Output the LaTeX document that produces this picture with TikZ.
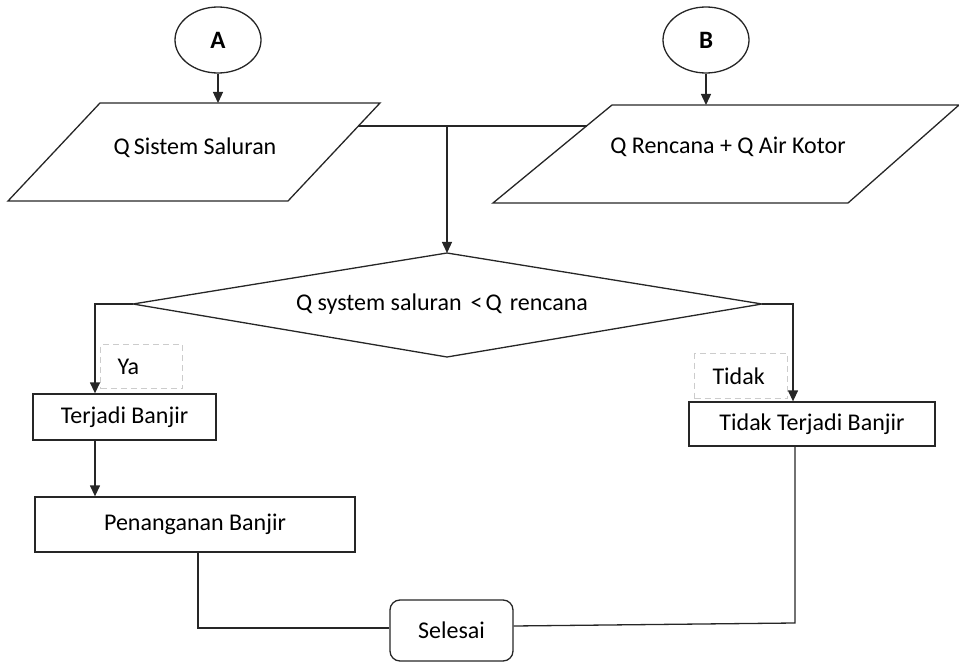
\documentclass[tikz,border=0pt]{standalone}
\usepackage{fontspec}
\setmainfont{Carlito}
\usetikzlibrary{shapes.geometric,arrows.meta}
\begin{document}
\begin{tikzpicture}[x=1pt,y=-1pt,
  every node/.style={font=\fontsize{24}{28}\selectfont, text=black},
  ln/.style={line width=1.3pt, draw=black!85},
  arr/.style={ln, -{Triangle[length=11pt,width=10pt]}},
  conn/.style={draw=black!85, ellipse, line width=1.3pt, minimum width=86pt, minimum height=66pt, inner sep=0pt, font=\fontsize{25}{29}\selectfont\bfseries},
  box/.style={draw=black!85, line width=1.3pt, inner sep=0pt},
  lab/.style={draw=black!20, dash pattern=on 6pt off 4pt, line width=1pt, inner ysep=0pt, align=left, anchor=north west},
]
\useasboundingbox (0,0) rectangle (959,663);

% connectors A and B
\node[conn] (A) at (218,40) {A};
\node[conn] (B) at (706,40) {B};

% parallelogram 1
\coordinate (p1tl) at (100,103);
\coordinate (p1tr) at (380,103);
\coordinate (p1br) at (288,201);
\coordinate (p1bl) at (8,201);
\draw[ln] (p1tl) -- (p1tr) -- (p1br) -- (p1bl) -- cycle;
\node (p1) at (195,148) {Q\,Sistem Saluran};

% parallelogram 2
\coordinate (p2tl) at (612,105);
\coordinate (p2tr) at (959,105);
\coordinate (p2br) at (848,203);
\coordinate (p2bl) at (493,203);
\draw[ln] (p2tl) -- (p2tr) -- (p2br) -- (p2bl) -- cycle;
\node (p2) at (728,147) {Q Rencana + Q Air Kotor};

\draw[arr] (A.south) -- (A.south |- p1tl);
\draw[arr] (B.south) -- (B.south |- p2tl);

% diamond
\coordinate (dl) at (133,304);
\coordinate (dt) at (447,253);
\coordinate (dr) at (762,304);
\coordinate (db) at (447,357);
\draw[ln] (dl) -- (dt) -- (dr) -- (db) -- cycle;
\node (dtext) at (442,304) {Q system saluran\hspace{9pt}<\hspace{3pt}Q\hspace{8pt}rencana};

% merge of inputs
\coordinate (j1) at (358,126);
\coordinate (j2) at (587,126);
\coordinate (jm) at (447,126);
\draw[ln] (j1) -- (j2);
\draw[arr] (jm) -- (dt);

% boxes
\node[box, minimum width=183pt, minimum height=46pt] (tb) at (124.5,417) {Terjadi Banjir};
\node[box, minimum width=320pt, minimum height=55pt] (pb) at (195,524.5) {Penanganan Banjir};
\node[box, minimum width=246pt, minimum height=44pt] (ttb) at (812,424) {Tidak Terjadi Banjir};
\node[box, rounded corners=10pt, minimum width=123pt, minimum height=61pt] (sel) at (451.5,630.5) {Selesai};

% labels
\node[lab, inner xsep=17pt, text width=48pt, minimum height=44pt] (ya) at (100,344) {Ya};
\node[lab, inner xsep=18pt, text width=57pt, minimum height=45pt] (tidak) at (694,353) {Tidak};

% branches
\coordinate (yl) at (95,304);
\draw[arr] (dl) -- (yl) -- (yl |- tb.north);
\draw[arr] (tb.south -| yl) -- (yl |- pb.north);
\coordinate (nr) at (793,304);
\draw[arr] (dr) -- (nr) -- (nr |- ttb.north);

% to end
\coordinate (pl) at (198,628);
\draw[ln] (pb.south -| pl) -- (pl) -- (sel.west |- pl);
\coordinate (sr) at (795,623);
\draw[ln] ([yshift=4.5pt]sel.east) -- (sr) -- (sr |- ttb.south);
\end{tikzpicture}
\end{document}
